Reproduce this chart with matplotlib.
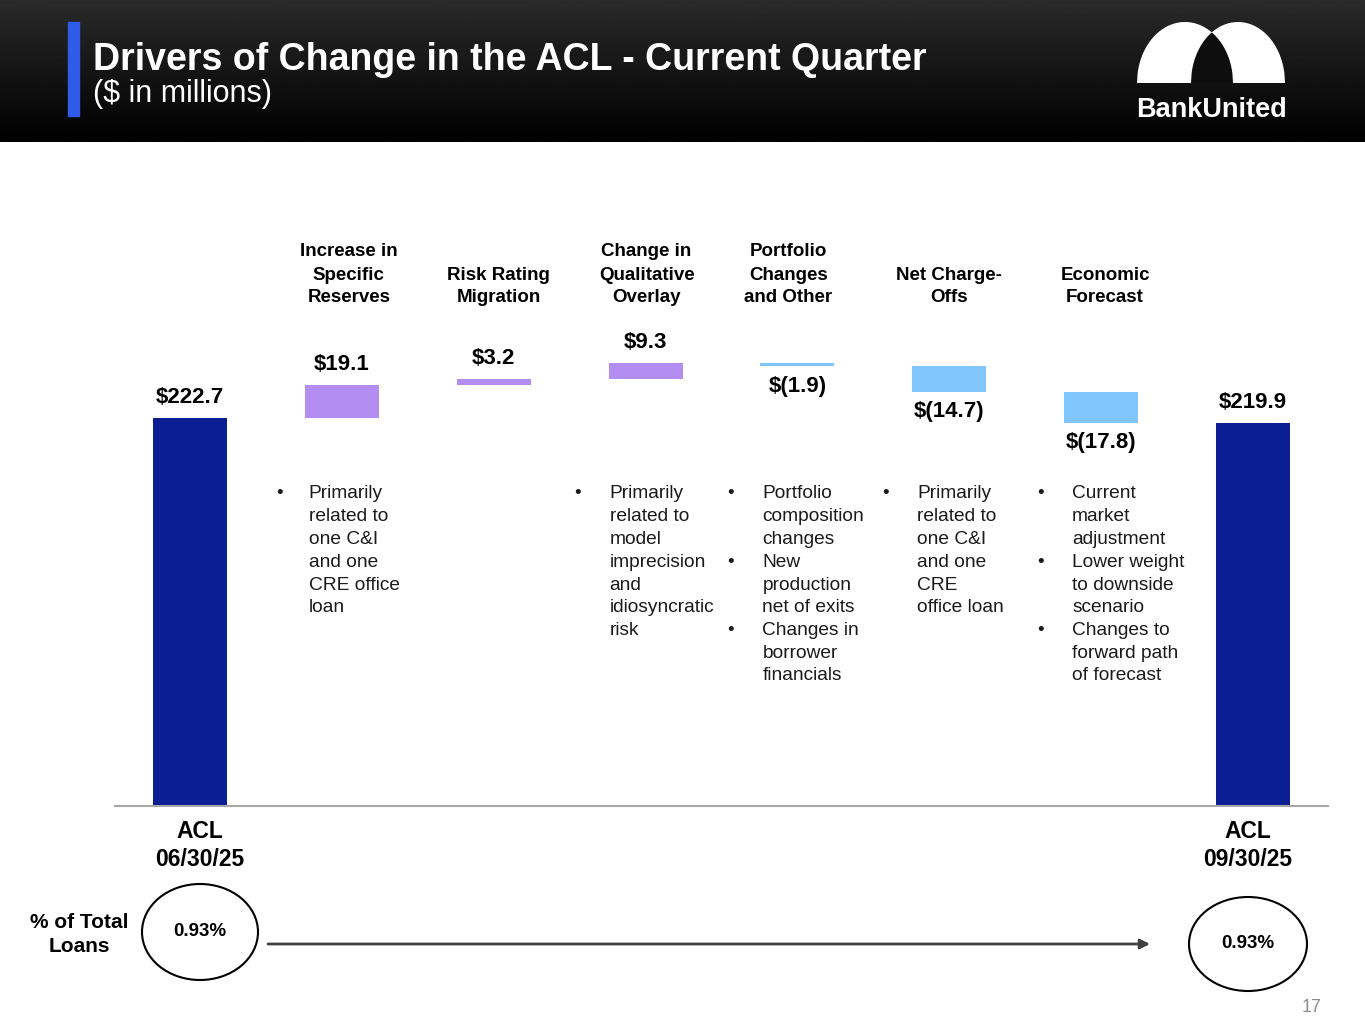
import numpy as np
import matplotlib
matplotlib.use("Agg")
import matplotlib.pyplot as plt
from matplotlib.patches import Ellipse, Polygon, Rectangle

plt.rcParams['font.family'] = ['Liberation Sans', 'DejaVu Sans']

W, H = 1365, 1024

# --- data ---
headers = [
    "ACL\n06/30/25",
    "Increase in\nSpecific\nReserves",
    "Risk Rating\nMigration",
    "Change in\nQualitative\nOverlay",
    "Portfolio\nChanges\nand Other",
    "Net Charge-\nOffs",
    "Economic\nForecast",
    "ACL\n09/30/25",
]
values = [222.7, 19.1, 3.2, 9.3, -1.9, -14.7, -17.8, 219.9]
kinds = ["total", "up", "up", "up", "down", "down", "down", "total"]
notes = [
    [],
    ["Primarily\nrelated to\none C&I\nand one\nCRE office\nloan"],
    [],
    ["Primarily\nrelated to\nmodel\nimprecision\nand\nidiosyncratic\nrisk"],
    ["Portfolio\ncomposition\nchanges", "New\nproduction\nnet of exits",
     "Changes in\nborrower\nfinancials"],
    ["Primarily\nrelated to\none C&I\nand one\nCRE\noffice loan"],
    ["Current\nmarket\nadjustment", "Lower weight\nto downside\nscenario",
     "Changes to\nforward path\nof forecast"],
    [],
]
pct_label = "% of Total\nLoans"
pct_start = "0.93%"
pct_end = "0.93%"

colors = {"total": "#0B1E94", "up": "#B38DF1", "down": "#80C6FC"}

# --- layout helpers (pixel space) ---
x0, step = 190.0, (1253 - 190) / 7.0
def colx(i):
    return x0 + i * step

fig = plt.figure(figsize=(W / 100, H / 100), dpi=100)
page = fig.add_axes([0, 0, 1, 1])
page.set_zorder(0)

# header band gradient
grad = np.linspace(0.165, 0.0, 200).reshape(-1, 1)
page.imshow(grad, cmap='gray', vmin=0, vmax=1, extent=(0, W, 142, 0), aspect='auto')
page.add_patch(Rectangle((68, 22), 11, 94, color='#2F5BEA'))
page.text(93, 70, "Drivers of Change in the ACL - Current Quarter", color='white',
          fontsize=27, fontweight='bold', va='baseline', ha='left')
page.text(93, 102, "($ in millions)", color='white', fontsize=22, va='baseline', ha='left')

# logo: two overlapping arches
def arch(c, a, base=83, b=61, p=2.0):
    t = np.linspace(-1, 1, 160)
    ys = base - b * (1 - np.abs(t) ** p) ** (1 / p)
    return list(zip(c + a * t, ys))
left = Polygon(arch(1185, 48), closed=True, color='white', lw=0)
right = Polygon(arch(1238, 47), closed=True, color='white', lw=0)
page.add_patch(left)
page.add_patch(right)
inner = Polygon(arch(1238, 47), closed=True, color='#0e0e0e', lw=0)
page.add_patch(inner)
inner.set_clip_path(left)
page.text(1211, 117, "BankUnited", color='white', fontsize=19.5, fontweight='bold',
          ha='center', va='baseline')

def lines_at(x, y_first, text, dy, **kw):
    for k, ln in enumerate(text.split("\n")):
        page.text(x, y_first + k * dy, ln, va='center', **kw)

# category headers (bottom lines aligned)
head_dx = [0, 7, 5, 1, -9, 0, 4, 0]
for i in range(1, 7):
    n = headers[i].count("\n") + 1
    lines_at(colx(i) + head_dx[i], 298 - (n - 1) * 23, headers[i], 23,
             ha='center', fontsize=13.5, fontweight='bold', color='black')

# notes with bullets
bullet_dx = [0, -62, 0, -68, -67, -64, -61, 0]
text_dx = [0, -33, 0, -36, -35, -32, -29, 0]
for i, items in enumerate(notes):
    yy = 494
    for item in items:
        page.text(colx(i) + bullet_dx[i], yy, "\u2022", va='center', ha='center',
                  fontsize=13.5, color='#1a1a1a')
        lines_at(colx(i) + text_dx[i], yy, item, 22.75, ha='left', fontsize=13.8, color='#1a1a1a')
        yy += 22.75 * (item.count("\n") + 1)

# end labels
lines_at(200, 832, headers[0], 27, ha='center', fontsize=16.5, fontweight='bold', color='black')
lines_at(1248, 832, headers[7], 27, ha='center', fontsize=16.5, fontweight='bold', color='black')
lines_at(79, 922, pct_label, 25, ha='center', fontsize=15, fontweight='bold', color='black')

page.add_patch(Ellipse((200, 932), 116, 96, fill=False, ec='black', lw=1.5))
page.add_patch(Ellipse((1248, 944), 118, 94, fill=False, ec='black', lw=1.5))
page.text(200, 932, pct_start, ha='center', va='center', fontsize=13.5, fontweight='bold')
page.text(1248, 944, pct_end, ha='center', va='center', fontsize=13.5, fontweight='bold')
page.annotate('', xy=(1150, 944), xytext=(268, 944),
              arrowprops=dict(arrowstyle='-|>', color='#404040', lw=2, mutation_scale=14,
                              shrinkA=0, shrinkB=0))
page.text(1312, 1007, "17", ha='center', va='center', fontsize=13, color='#8c8c8c')

page.set_xlim(0, W)
page.set_ylim(H, 0)
page.axis('off')

# --- main waterfall ---
ax_l, ax_r, ax_b, ax_t = 115, 1328, 806, 150
ax = fig.add_axes([ax_l / W, 1 - ax_b / H, (ax_r - ax_l) / W, (ax_b - ax_t) / H])
ax.set_zorder(1)
ax.patch.set_alpha(0)
px_per_unit = (806 - 418) / 222.7
ax.set_ylim(0, (ax_b - ax_t) / px_per_unit)
ax.set_xlim((ax_l - x0) / step, (ax_r - x0) / step)

bottoms, heights = [], []
running = 0.0
for v, k in zip(values, kinds):
    if k == "total":
        bottoms.append(0.0)
        heights.append(v)
        running = v
    else:
        lo = running + min(v, 0)
        bottoms.append(lo)
        heights.append(abs(v))
        running += v

xs = np.arange(len(values))
ax.bar(xs, heights, bottom=bottoms, width=74 / step,
       color=[colors[k] for k in kinds], lw=0)

def fmt(v):
    return f"${v:.1f}" if v >= 0 else f"$({-v:.1f})"

for i, (v, b, h) in enumerate(zip(values, bottoms, heights)):
    if v >= 0:
        ax.annotate(fmt(v), xy=(i, b + h), xytext=(0, 20.5 * 0.72), textcoords='offset points',
                    ha='center', va='center', fontsize=16, fontweight='bold')
    else:
        ax.annotate(fmt(v), xy=(i, b), xytext=(0, -20 * 0.72), textcoords='offset points',
                    ha='center', va='center', fontsize=16, fontweight='bold')

for s in ['top', 'left', 'right']:
    ax.spines[s].set_visible(False)
ax.spines['bottom'].set_color('#A6A6A6')
ax.spines['bottom'].set_linewidth(1.5)
ax.set_xticks([])
ax.set_yticks([])

fig.savefig("out.png", dpi=100)
